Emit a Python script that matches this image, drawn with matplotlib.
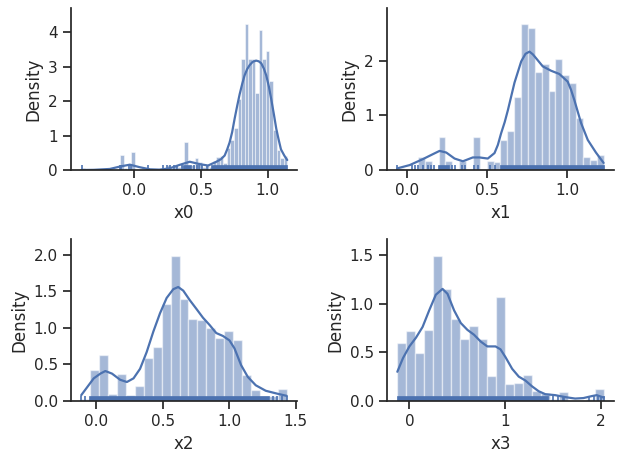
import numpy as np
import matplotlib
matplotlib.use("Agg")
import matplotlib.pyplot as plt
from matplotlib.patches import Rectangle
import seaborn as sns

sns.set_theme(style="ticks")
plt.rcParams['font.family'] = ['DejaVu Sans']

# ---------------- data ----------------
labels = ["x0", "x1", "x2", "x3"]

# histogram ranges (data min / max) and bin densities
x0_range = (-0.393, 1.147)
x0_density = [0.07, 0, 0, 0, 0, 0, 0, 0, 0, 0,
              0, 0.44, 0.07, 0, 0.52, 0, 0, 0, 0.07, 0,
              0, 0, 0.07, 0.07, 0.14, 0.07, 0.14, 0.1, 0.14, 0.81,
              0.1, 0.14, 0.34, 0.22, 0.1, 0.14, 0.1, 0.25, 0.39, 0.4,
              0.2, 0.63, 0.87, 1.21, 2.05, 3.22, 4.25, 3.23, 3.23, 2.24,
              4.08, 3.22, 3.45, 2.6, 1.15, 0.58, 0.36, 0.4]

x1_range = (-0.0625, 1.229)
x1_density = [0.04, 0, 0, 0.245, 0.165, 0, 0.61, 0.165, 0, 0.165,
              0, 0.61, 0, 0.165, 0.15, 0.55, 0.72, 1.33, 2.67, 2.61,
              1.79, 1.94, 1.44, 2.04, 1.74, 1.6, 0.96, 0.23, 0.18, 0.28]

x2_range = (-0.112, 1.433)
x2_density = [0.03, 0.42, 0.63, 0.09, 0.375, 0.08, 0.2, 0.59, 0.74, 1.33,
              1.99, 1.4, 1.12, 1.11, 1.0, 0.86, 0.96, 0.83, 0.35, 0.15,
              0.07, 0.07, 0.17]

x3_range = (-0.126, 2.03)
x3_density = [0.6, 0.72, 0.49, 0.73, 1.49, 1.15, 0.84, 0.64, 0.77, 0.64,
              0.26, 1.07, 0.17, 0.18, 0.27, 0.1, 0.086, 0.02, 0.093, 0,
              0, 0.02, 0.12]

# KDE curves (x, density)
x0_kde_x = [-0.393, -0.3, -0.18, -0.104, -0.03, 0.045, 0.12, 0.194, 0.269, 0.343,
            0.418, 0.493, 0.555, 0.617, 0.65, 0.679, 0.698, 0.716, 0.735, 0.754,
            0.773, 0.791, 0.81, 0.828, 0.847, 0.866, 0.89, 0.915, 0.934, 0.953,
            0.972, 0.99, 1.01, 1.03, 1.048, 1.065, 1.083, 1.10, 1.125, 1.147]
x0_kde_y = [0.0, 0.005, 0.03, 0.1, 0.155, 0.08, 0.02, 0.01, 0.05, 0.15,
            0.24, 0.17, 0.13, 0.24, 0.31, 0.42, 0.6, 0.8, 1.1, 1.5,
            1.87, 2.2, 2.5, 2.75, 2.93, 3.05, 3.15, 3.18, 3.16, 3.1,
            2.95, 2.75, 2.42, 2.0, 1.6, 1.2, 0.88, 0.6, 0.42, 0.29]

x1_kde_x = [-0.063, 0.015, 0.098, 0.16, 0.202, 0.244, 0.296, 0.348, 0.41, 0.452,
            0.504, 0.546, 0.567, 0.587, 0.61, 0.63, 0.671, 0.713, 0.74, 0.765,
            0.786, 0.806, 0.848, 0.9, 0.952, 1.004, 1.025, 1.046, 1.067, 1.088,
            1.13, 1.181, 1.229]
x1_kde_y = [0.03, 0.09, 0.2, 0.29, 0.35, 0.32, 0.21, 0.16, 0.23, 0.23,
            0.21, 0.31, 0.46, 0.67, 0.88, 1.1, 1.6, 1.99, 2.13, 2.17,
            2.12, 2.05, 1.9, 1.82, 1.76, 1.62, 1.47, 1.28, 1.07, 0.86,
            0.55, 0.32, 0.13]

x2_kde_x = [-0.112, -0.067, -0.018, 0.032, 0.069, 0.119, 0.181, 0.231, 0.281, 0.33,
            0.38, 0.43, 0.48, 0.53, 0.58, 0.617, 0.655, 0.704, 0.754, 0.803,
            0.853, 0.903, 0.953, 1.002, 1.04, 1.09, 1.14, 1.2, 1.275, 1.362, 1.433]
x2_kde_y = [0.08, 0.19, 0.31, 0.375, 0.41, 0.375, 0.29, 0.26, 0.31, 0.44,
            0.67, 0.95, 1.2, 1.41, 1.53, 1.56, 1.51, 1.38, 1.26, 1.14,
            1.04, 0.93, 0.89, 0.83, 0.72, 0.49, 0.33, 0.215, 0.14, 0.1, 0.07]

x3_kde_x = [-0.126, -0.067, 0.0, 0.069, 0.138, 0.207, 0.276, 0.346, 0.398, 0.467,
            0.537, 0.606, 0.675, 0.745, 0.814, 0.9, 0.952, 1.004, 1.074, 1.143,
            1.212, 1.282, 1.351, 1.42, 1.524, 1.628, 1.732, 1.818, 1.905, 1.957, 2.03]
x3_kde_y = [0.3, 0.44, 0.56, 0.65, 0.76, 0.93, 1.09, 1.15, 1.1, 0.93,
            0.8, 0.73, 0.68, 0.61, 0.56, 0.56, 0.53, 0.45, 0.33, 0.25,
            0.21, 0.15, 0.1, 0.07, 0.06, 0.04, 0.025, 0.03, 0.05, 0.06, 0.035]

# rug: isolated observations and dense stretches of observations
x0_rug_points = [-0.39, -0.105, -0.095, -0.035, -0.025, 0.107, 0.22, 0.25, 0.27,
                 0.3, 0.32, 0.36, 0.45, 0.47, 0.49, 0.51, 0.55]
x0_rug_spans = [(0.37, 0.43), (0.58, 1.147)]
x1_rug_points = [-0.062, 0.03, 0.05, 0.07, 0.1, 0.13, 0.15, 0.17, 0.28, 0.3, 0.34,
                 0.36, 0.42, 0.44, 0.52, 0.55]
x1_rug_spans = [(0.19, 0.26), (0.58, 1.229)]
x2_rug_points = [-0.112, -0.08, 1.33, 1.36, 1.4, 1.433]
x2_rug_spans = [(-0.05, 1.3)]
x3_rug_points = [1.5, 1.55, 1.6, 1.62, 1.88, 1.93, 1.97, 2.0, 2.03]
x3_rug_spans = [(-0.126, 1.45)]

x_limits = [(-0.47, 1.22), (-0.127, 1.294), (-0.189, 1.51), (-0.234, 2.138)]
y_limits = [(0, 4.71), (0, 2.97), (0, 2.217), (0, 1.662)]
x_ticks = [[0.0, 0.5, 1.0], [0.0, 0.5, 1.0], [0.0, 0.5, 1.0, 1.5], [0, 1, 2]]
y_ticks = [[0, 1, 2, 3, 4], [0, 1, 2], [0.0, 0.5, 1.0, 1.5, 2.0], [0.0, 0.5, 1.0, 1.5]]

panels = [
    (x0_range, x0_density, x0_kde_x, x0_kde_y, x0_rug_points, x0_rug_spans),
    (x1_range, x1_density, x1_kde_x, x1_kde_y, x1_rug_points, x1_rug_spans),
    (x2_range, x2_density, x2_kde_x, x2_kde_y, x2_rug_points, x2_rug_spans),
    (x3_range, x3_density, x3_kde_x, x3_kde_y, x3_rug_points, x3_rug_spans),
]

# ---------------- drawing ----------------
W, H = 623, 463
fig = plt.figure(figsize=(W / 100, H / 100), dpi=100)
boxes = [(71, 8, 297, 170), (387, 8, 614, 170), (71, 239, 297, 401), (387, 239, 614, 401)]
color = "#4c72b0"

for i, (rng, dens, kx, ky, rpts, rspans) in enumerate(panels):
    l, t, r, b = boxes[i]
    ax = fig.add_axes([l / W, 1 - b / H, (r - l) / W, (b - t) / H])
    edges = np.linspace(rng[0], rng[1], len(dens) + 1)
    widths = np.diff(edges)
    lw = 0.7 if len(dens) > 40 else 1.0
    ax.bar(edges[:-1], dens, width=widths, align="edge", color=color,
           alpha=0.5, edgecolor="white", linewidth=lw)
    ax.plot(kx, ky, color=color, lw=1.6, solid_joinstyle="round")
    trans = ax.get_xaxis_transform()
    ax.vlines(rpts, 0, 0.028, transform=trans, color=color, lw=1.2)
    for a, bnd in rspans:
        ax.add_patch(Rectangle((a, 0), bnd - a, 0.028, transform=trans,
                               facecolor=color, edgecolor=color, lw=0.5))
    ax.set_xlim(*x_limits[i])
    ax.set_ylim(*y_limits[i])
    ax.set_xticks(x_ticks[i])
    ax.set_yticks(y_ticks[i])
    ax.set_xlabel(labels[i])
    ax.set_ylabel("Density")
    sns.despine(ax=ax)

fig.savefig("out.png", dpi=100)
